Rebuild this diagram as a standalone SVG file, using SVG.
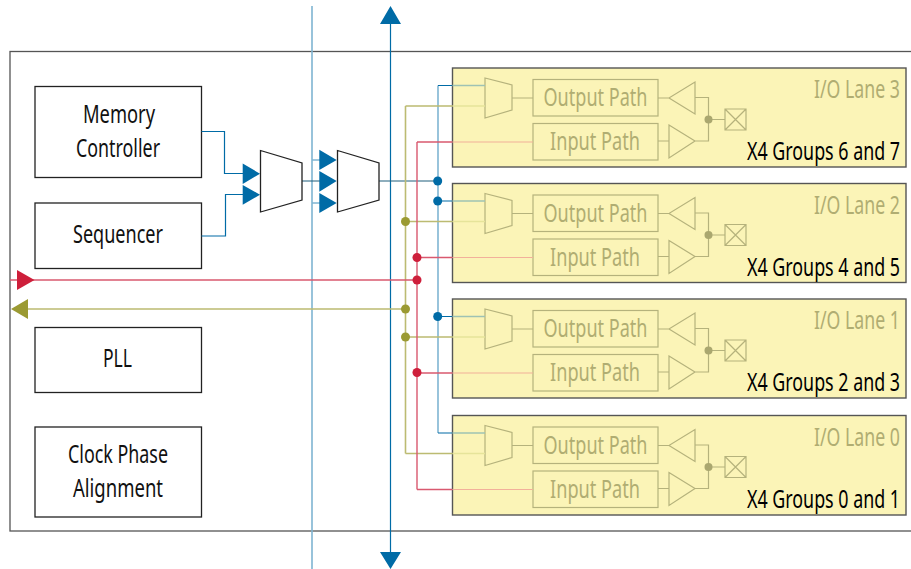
<svg xmlns="http://www.w3.org/2000/svg" width="911" height="569" viewBox="0 0 911 569">
<style>
text{font-family:"Noto Sans","Liberation Sans",sans-serif;font-size:26px;lengthAdjust:spacingAndGlyphs}
.box{fill:#fff;stroke:#222;stroke-width:1.3}
.t{fill:#111}
.lane{fill:#fbf4b7;stroke:#555;stroke-width:1.4}
.g{fill:none;stroke:#b5b27c;stroke-width:1.2}
.gt{fill:#b0ad72}
.lab{fill:#000}
.bl{fill:none;stroke:#006ba6;stroke-width:1.2}
.pb{fill:none;stroke:#7fb5d2;stroke-width:1.6}
.re{fill:none;stroke:#d9596f;stroke-width:1.4}
.ol{fill:none;stroke:#bcbb72;stroke-width:1.6}
.fb{fill:#006ba6}.fr{fill:#ce1f3b}.fo{fill:#9b9a33}
</style>
<rect id="frame" x="10" y="51.500" width="910" height="479.500" fill="#fff" stroke="#555" stroke-width="1.300"/>
<g id="lane3">
<rect class="lane" x="452.500" y="68" width="453.500" height="99"/>
<path class="g" d="M485 78L512 85V110L485 118ZM512 98H533M658 98H669L695 82V114L669 98M695 97.500H708.500V141H695M669 125L695 141L669 158ZM658 141H669M708.500 119.500H725M725 109H746V130H725ZM725 109L746 130M746 109L725 130"/>
<rect class="g" x="533" y="79.500" width="125" height="36.500"/><rect class="g" x="533" y="123.500" width="125" height="36.500"/>
<circle cx="708.500" cy="119.500" r="4" fill="#aaa76f"/>
<text class="gt" transform="translate(543.500 106) scale(.72 1)" textLength="144.400" lengthAdjust="spacingAndGlyphs">Output Path</text>
<text class="gt" transform="translate(550 150) scale(.72 1)" textLength="125" lengthAdjust="spacingAndGlyphs">Input Path</text>
<text class="gt" transform="translate(814 98) scale(.72 1)" textLength="119.400" lengthAdjust="spacingAndGlyphs">I/O Lane 3</text>
<text class="lab" transform="translate(747 160) scale(.72 1)" textLength="212.500" lengthAdjust="spacingAndGlyphs">X4 Groups 6 and 7</text>
</g>
<g id="lane2" transform="translate(0 115.500)">
<rect class="lane" x="452.500" y="68" width="453.500" height="99"/>
<path class="g" d="M485 78L512 85V110L485 118ZM512 98H533M658 98H669L695 82V114L669 98M695 97.500H708.500V141H695M669 125L695 141L669 158ZM658 141H669M708.500 119.500H725M725 109H746V130H725ZM725 109L746 130M746 109L725 130"/>
<rect class="g" x="533" y="79.500" width="125" height="36.500"/><rect class="g" x="533" y="123.500" width="125" height="36.500"/>
<circle cx="708.500" cy="119.500" r="4" fill="#aaa76f"/>
<text class="gt" transform="translate(543.500 106) scale(.72 1)" textLength="144.400" lengthAdjust="spacingAndGlyphs">Output Path</text>
<text class="gt" transform="translate(550 150) scale(.72 1)" textLength="125" lengthAdjust="spacingAndGlyphs">Input Path</text>
<text class="gt" transform="translate(814 98) scale(.72 1)" textLength="119.400" lengthAdjust="spacingAndGlyphs">I/O Lane 2</text>
<text class="lab" transform="translate(747 160) scale(.72 1)" textLength="212.500" lengthAdjust="spacingAndGlyphs">X4 Groups 4 and 5</text>
</g>
<g id="lane1" transform="translate(0 231)">
<rect class="lane" x="452.500" y="68" width="453.500" height="99"/>
<path class="g" d="M485 78L512 85V110L485 118ZM512 98H533M658 98H669L695 82V114L669 98M695 97.500H708.500V141H695M669 125L695 141L669 158ZM658 141H669M708.500 119.500H725M725 109H746V130H725ZM725 109L746 130M746 109L725 130"/>
<rect class="g" x="533" y="79.500" width="125" height="36.500"/><rect class="g" x="533" y="123.500" width="125" height="36.500"/>
<circle cx="708.500" cy="119.500" r="4" fill="#aaa76f"/>
<text class="gt" transform="translate(543.500 106) scale(.72 1)" textLength="144.400" lengthAdjust="spacingAndGlyphs">Output Path</text>
<text class="gt" transform="translate(550 150) scale(.72 1)" textLength="125" lengthAdjust="spacingAndGlyphs">Input Path</text>
<text class="gt" transform="translate(814 98) scale(.72 1)" textLength="119.400" lengthAdjust="spacingAndGlyphs">I/O Lane 1</text>
<text class="lab" transform="translate(747 160) scale(.72 1)" textLength="212.500" lengthAdjust="spacingAndGlyphs">X4 Groups 2 and 3</text>
</g>
<g id="lane0" transform="translate(0 347.500)">
<rect class="lane" x="452.500" y="68" width="453.500" height="99.500"/>
<path class="g" d="M485 78L512 85V110L485 118ZM512 98H533M658 98H669L695 82V114L669 98M695 97.500H708.500V141H695M669 125L695 141L669 158ZM658 141H669M708.500 119.500H725M725 109H746V130H725ZM725 109L746 130M746 109L725 130"/>
<rect class="g" x="533" y="79.500" width="125" height="36.500"/><rect class="g" x="533" y="123.500" width="125" height="36.500"/>
<circle cx="708.500" cy="119.500" r="4" fill="#aaa76f"/>
<text class="gt" transform="translate(543.500 106) scale(.72 1)" textLength="144.400" lengthAdjust="spacingAndGlyphs">Output Path</text>
<text class="gt" transform="translate(550 150) scale(.72 1)" textLength="125" lengthAdjust="spacingAndGlyphs">Input Path</text>
<text class="gt" transform="translate(814 98) scale(.72 1)" textLength="119.400" lengthAdjust="spacingAndGlyphs">I/O Lane 0</text>
<text class="lab" transform="translate(747 160) scale(.72 1)" textLength="212.500" lengthAdjust="spacingAndGlyphs">X4 Groups 0 and 1</text>
</g>
<g id="memory-controller"><rect class="box" x="35" y="86.500" width="166.500" height="91"/>
<text class="t" transform="translate(83 123) scale(.72 1)" textLength="100" lengthAdjust="spacingAndGlyphs">Memory</text>
<text class="t" transform="translate(76 157) scale(.72 1)" textLength="116.700" lengthAdjust="spacingAndGlyphs">Controller</text></g>
<g id="sequencer"><rect class="box" x="35" y="203" width="166.500" height="65.500"/>
<text class="t" transform="translate(73 243) scale(.72 1)" textLength="125" lengthAdjust="spacingAndGlyphs">Sequencer</text></g>
<g id="pll"><rect class="box" x="35" y="327.500" width="166.500" height="65"/>
<text class="t" transform="translate(103 367) scale(.72 1)" textLength="40.300" lengthAdjust="spacingAndGlyphs">PLL</text></g>
<g id="clock-phase"><rect class="box" x="35" y="427" width="166.500" height="90"/>
<text class="t" transform="translate(68 463) scale(.72 1)" textLength="138.900" lengthAdjust="spacingAndGlyphs">Clock Phase</text>
<text class="t" transform="translate(73 497) scale(.72 1)" textLength="125" lengthAdjust="spacingAndGlyphs">Alignment</text></g>
<g id="connectors">
<path class="pb" d="M312 6V569M312 160H320M312 203H320"/>
<path class="bl" d="M390.500 20V555"/>
<path class="fb" d="M390.500 6L401 24H380ZM390.500 569L401 552H380Z"/>
<path class="pb" d="M438 85.500V433"/>
<path class="bl" d="M438 85.500H452.500M438 201H452.500M438 316.500H452.500M438 433H452.500"/>
<path d="M379 181H438M302 181H320" fill="none" stroke="#1f5f7c" stroke-width="1.100"/>
<path d="M452.500 85.500H485M452.500 201H485M452.500 316.500H485M452.500 433H485" fill="none" stroke="#9ec2b4" stroke-width="1.300"/>
<path class="ol" d="M405.500 106V453.500M405.500 106H452.500M405.500 221.500H452.500M405.500 337H452.500M405.500 453.500H452.500M28 309H405.500"/>
<path d="M452.500 106H485M452.500 221.500H485M452.500 337H485M452.500 453.500H485" fill="none" stroke="#e6e49a" stroke-width="1.600"/>
<path class="re" d="M417 142V489.500M417 142H452.500M417 257.500H452.500M417 373H452.500M417 489.500H452.500M10 280H417"/>
<path d="M452.500 142H533M452.500 257.500H533M452.500 373H533M452.500 489.500H533" fill="none" stroke="#f2b09a" stroke-width="1.200"/>
<path class="bl" d="M201.500 131.500H224.500V173.500H243M201.500 236H225.500V194.500H243"/>
<circle class="fb" cx="437.700" cy="181" r="4.500"/><circle class="fb" cx="437.700" cy="201" r="4.500"/><circle class="fb" cx="437.700" cy="316.500" r="4.500"/>
<circle class="fo" cx="405.500" cy="221.500" r="4.500"/><circle class="fo" cx="405.500" cy="309" r="4.500"/><circle class="fo" cx="405.500" cy="337" r="4.500"/>
<circle class="fr" cx="417" cy="257.500" r="4.500"/><circle class="fr" cx="417" cy="280" r="4.500"/><circle class="fr" cx="417" cy="372.500" r="4.500"/>
<path class="fr" d="M17 270L34.500 280L17 290Z"/>
<path class="fo" d="M11 309L28 299V319Z"/>
<path class="fb" d="M242.700 163.500L260 173.700L242.700 184ZM242.700 185L260 194.700L242.700 204.700ZM319.300 149.700L336.700 160L319.300 170ZM319.300 171L336.700 181L319.300 191.700ZM319.300 193L336.700 203L319.300 213Z"/>
</g>
<g id="mux1"><path d="M260.500 150.500L302 163V200L260.500 212Z" fill="#fff" stroke="#222" stroke-width="1.300"/></g>
<g id="mux2"><path d="M337.500 150.500L379 163V200L337.500 212Z" fill="#fff" stroke="#222" stroke-width="1.300"/></g>
</svg>
